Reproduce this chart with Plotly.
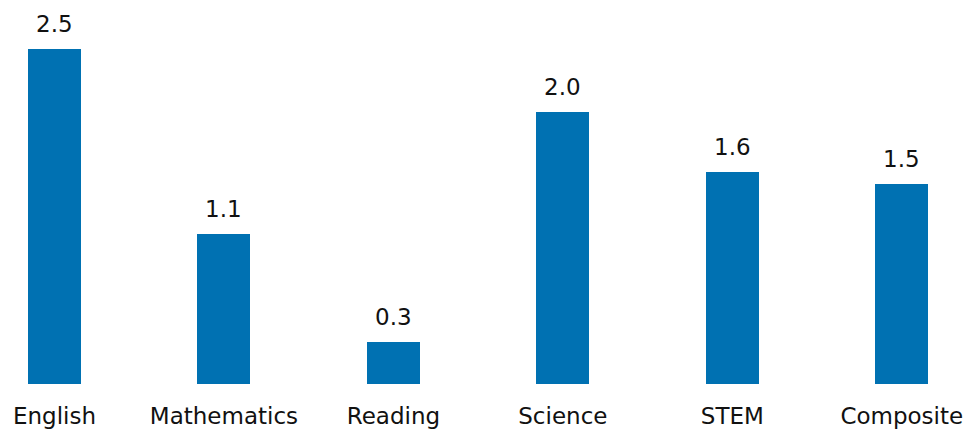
import plotly.graph_objects as go

categories = ["English", "Mathematics", "Reading", "Science", "STEM", "Composite"]
values = [2.50, 1.12, 0.31, 2.03, 1.58, 1.49]
value_labels = ["2.5", "1.1", "0.3", "2.0", "1.6", "1.5"]

BAR_COLOR = "#0071b2"
FONT = "DejaVu Sans"

fig = go.Figure()
fig.add_trace(go.Bar(
    x=list(range(len(categories))),
    y=values,
    width=0.3128,
    marker=dict(color=BAR_COLOR, line=dict(width=0)),
    hoverinfo="skip",
))

for i, (v, lab) in enumerate(zip(values, value_labels)):
    fig.add_annotation(x=i, y=v, text=lab, showarrow=False,
                       yanchor="bottom", yshift=10,
                       font=dict(family=FONT, size=23, color="#111111"))

fig.update_layout(
    width=968, height=429,
    margin=dict(l=0, r=0, t=0, b=45, pad=0),
    plot_bgcolor="white", paper_bgcolor="white",
    showlegend=False,
    bargap=0,
    xaxis=dict(
        range=[-0.3216, 5.391],
        tickmode="array",
        tickvals=list(range(len(categories))),
        ticktext=categories,
        showgrid=False, zeroline=False, showline=False,
        ticks="outside", ticklen=11, tickcolor="rgba(0,0,0,0)",
        tickfont=dict(family=FONT, size=23, color="#111111"),
        fixedrange=True,
    ),
    yaxis=dict(
        range=[0, 2.863],
        visible=False,
        fixedrange=True,
    ),
)

fig.write_html("out.html", config={"displayModeBar": False})
